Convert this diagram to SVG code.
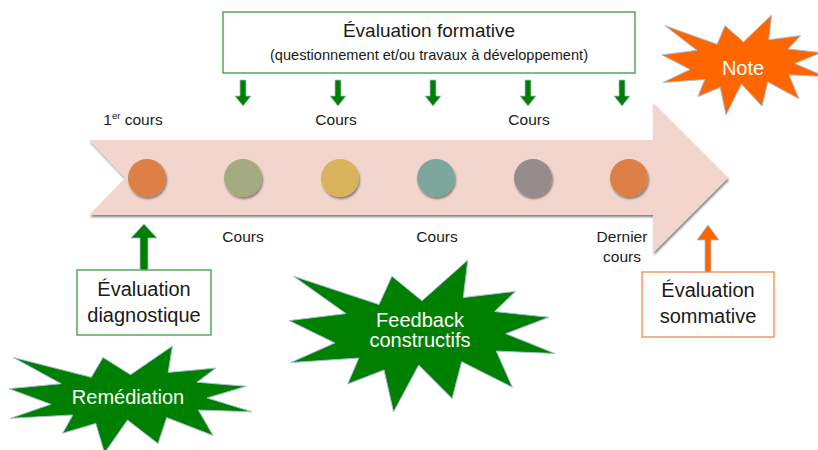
<svg xmlns="http://www.w3.org/2000/svg" width="818" height="450" viewBox="0 0 818 450">
<defs>
<style>
text{font-family:"Liberation Sans",Arial,sans-serif;fill:#1a1a1a;text-anchor:middle}
.lbl{font-size:15.5px}
.big{font-size:20px}
.wt{fill:#ffffff}
.gbox{fill:#ffffff;stroke:#3c9a3c;stroke-width:1.3}
.obox{fill:#ffffff;stroke:#f0884a;stroke-width:1.3}
.garr{fill:#008000;stroke:#a9bdd6;stroke-width:0.8}
.oarr{fill:#ff6600;stroke:#a9bdd6;stroke-width:0.8}
.gstar{fill:#008000;stroke:#a9bdd6;stroke-width:1}
.ostar{fill:#ff6600;stroke:#a9bdd6;stroke-width:1}
.dot{filter:url(#ds)}
</style>
<filter id="ds" x="-30%" y="-30%" width="170%" height="170%">
<feDropShadow dx="1" dy="2" stdDeviation="1.2" flood-color="#000" flood-opacity="0.45"/>
</filter>
<filter id="as" x="-5%" y="-10%" width="110%" height="125%">
<feDropShadow dx="1" dy="2" stdDeviation="0.8" flood-color="#000" flood-opacity="0.5"/>
</filter>
</defs>
<rect width="818" height="450" fill="#ffffff"/>

<g id="timeline">
<polygon points="89,140 653,140 653,103 728,178 653,253 653,215 89,215 125,178" fill="#f2d6cd" filter="url(#as)"/>
</g>

<g id="courses">
<circle class="dot" cx="147" cy="178" r="19" fill="#dd8047"/>
<circle class="dot" cx="243" cy="178" r="19" fill="#a5ab81"/>
<circle class="dot" cx="340" cy="178" r="19" fill="#d8b25c"/>
<circle class="dot" cx="436" cy="178" r="19" fill="#7ba79d"/>
<circle class="dot" cx="533" cy="178" r="19" fill="#968c8c"/>
<circle class="dot" cx="629" cy="178" r="19" fill="#dd8047"/>
</g>

<g id="course-labels">
<text class="lbl" x="133" y="125">1<tspan font-size="9.5" dy="-6">er</tspan><tspan dy="6"> cours</tspan></text>
<text class="lbl" x="336" y="125">Cours</text>
<text class="lbl" x="529" y="125">Cours</text>
<text class="lbl" x="243" y="242">Cours</text>
<text class="lbl" x="437" y="242">Cours</text>
<text class="lbl" x="622" y="242">Dernier</text>
<text class="lbl" x="622" y="262">cours</text>
</g>

<g id="formative">
<rect class="gbox" x="223" y="12" width="412" height="61"/>
<text x="429" y="37" font-size="19">Évaluation formative</text>
<text x="429" y="60" font-size="14.6">(questionnement  et/ou travaux à développement)</text>
</g>

<g id="diagnostique">
<rect class="gbox" x="77" y="270" width="134" height="65"/>
<text class="big" x="144" y="296">Évaluation</text>
<text class="big" x="144" y="322">diagnostique</text>
</g>

<g id="sommative">
<rect class="obox" x="642" y="272" width="132" height="65"/>
<text class="big" x="708" y="297">Évaluation</text>
<text class="big" x="708" y="323">sommative</text>
</g>

<g id="note">
<polygon class="ostar" points="743.5,41.9 725,25.6 717.2,44.3 664.8,25.6 696.9,50.3 662,54.9 690.1,69.5 663,82.5 704.8,79.5 697.9,96.6 720.2,87.4 726,115 741.5,84.1 762,106.2 767.8,81.9 798.9,98.8 789.1,74.9 825,76.5 794.9,63.5 821.2,52.7 788,48.9 800.7,35.6 768.8,39.7 771.6,15"/>
<text class="wt" x="743" y="75" font-size="20">Note</text>
</g>

<g id="remediation">
<polygon class="gstar" points="130.5,374.7 103,357.4 91.3,377.3 13.2,357.4 61.1,383.7 9,388.7 50.9,404.3 10.5,418.3 72.8,415 62.6,433.3 95.8,423.4 104.5,453 127.5,420 158,443.6 166.7,417.6 213.1,435.6 198.4,410.1 252,411.8 207.1,397.9 246.3,386.3 196.9,382.2 215.8,368.1 168.2,372.4 172.4,346"/>
<text class="wt big" x="128" y="404">Remédiation</text>
</g>

<g id="feedback">
<polygon class="gstar" points="422,300.8 391.9,276.2 379,304.5 293.5,276.2 346,313.6 289,320.6 334.8,342.9 290.7,362.6 358.8,358.1 347.7,384 384,370 393.5,412 418.7,365.1 452.1,398.6 461.7,361.7 512.4,387.3 496.3,351.1 555,353.5 505.8,333.7 548.8,317.3 494.7,311.5 515.3,291.4 463.3,297.5 467.8,260"/>
<text class="wt big" x="420" y="327">Feedback</text>
<text class="wt big" x="420" y="347">constructifs</text>
</g>

<g id="connectors">
<polygon class="garr" points="240,80 246,80 246,96 251,96 243,106 235,96 240,96"/>
<polygon class="garr" points="335,80 341,80 341,96 346,96 338,106 330,96 335,96"/>
<polygon class="garr" points="430,80 436,80 436,96 441,96 433,106 425,96 430,96"/>
<polygon class="garr" points="525,80 531,80 531,96 536,96 528,106 520,96 525,96"/>
<polygon class="garr" points="619,80 625,80 625,96 630,96 622,106 614,96 619,96"/>
<polygon class="garr" points="140,270 148,270 148,238 157,238 144,224 131,238 140,238"/>
<polygon class="oarr" points="705,272 711,272 711,240 719,240 708,225 697,240 705,240"/>
</g>
</svg>
